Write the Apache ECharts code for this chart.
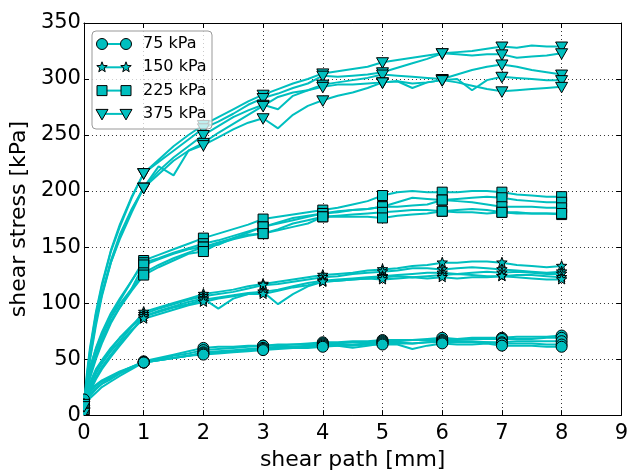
<!DOCTYPE html>
<html>
<head>
<meta charset="utf-8">
<script src="https://cdn.jsdelivr.net/npm/echarts@6/dist/echarts.min.js"></script>
<style>
  html, body { margin: 0; padding: 0; background: #fff; }
  #chart { width: 631px; height: 476px; }
</style>
</head>
<body>
<div id="chart"></div>
<script>
// Shear path positions [mm] shared by all measured curves
const shearPath = [0, 0.05, 0.1, 0.2, 0.3, 0.45, 0.6, 0.8,
  1, 1.25, 1.5, 1.75, 2, 2.25, 2.5, 2.75, 3, 3.25, 3.5, 3.75, 4,
  4.25, 4.5, 4.75, 5, 5.25, 5.5, 5.75, 6, 6.25, 6.5, 6.75, 7,
  7.25, 7.5, 7.75, 8];

// Shear stress [kPa], five tests per normal stress
const stress75 = [
  [12, 17, 21, 26, 30, 34, 38, 43, 48, 51, 54, 57, 60, 61, 61, 62, 62, 63, 63, 64, 65, 65, 66, 66, 67, 67, 67, 68, 69, 68, 69, 69, 69, 70, 70, 70, 71],
  [8, 13, 17, 23, 28, 33, 38, 43, 47, 50, 53, 55, 58, 59, 60, 61, 62, 62, 63, 63, 64, 64, 65, 65, 66, 66, 67, 67, 67, 67, 68, 68, 68, 68, 68, 69, 69],
  [10, 15, 19, 24, 28, 32, 37, 42, 47, 49, 51, 53, 56, 57, 58, 59, 60, 61, 61, 62, 63, 63, 63, 64, 65, 65, 64, 65, 66, 66, 66, 65, 65, 66, 66, 66, 66],
  [6, 11, 15, 20, 25, 30, 35, 41, 47, 49, 51, 53, 55, 56, 57, 58, 59, 60, 61, 61, 62, 62, 60, 62, 64, 64, 64, 65, 65, 65, 65, 65, 64, 64, 64, 63, 63],
  [14, 19, 23, 27, 31, 35, 39, 43, 47, 49, 51, 53, 54, 55, 56, 57, 58, 59, 60, 60, 61, 62, 62, 63, 63, 63, 59, 62, 64, 63, 63, 64, 62, 62, 62, 61, 61]
];
const stress150 = [
  [5, 17, 25, 37, 46, 57, 66, 79, 92, 96, 100, 104, 108, 110, 112, 115, 117, 119, 121, 123, 125, 126, 127, 129, 130, 131, 133, 134, 136, 136, 137, 137, 136, 134, 133, 132, 133],
  [8, 19, 27, 39, 48, 59, 69, 80, 90, 95, 99, 103, 106, 108, 110, 113, 116, 117, 119, 121, 123, 124, 126, 127, 128, 129, 131, 131, 130, 131, 132, 131, 130, 129, 128, 127, 128],
  [3, 14, 21, 32, 41, 52, 62, 75, 88, 93, 97, 101, 104, 95, 104, 108, 110, 112, 115, 118, 120, 121, 122, 123, 124, 125, 126, 127, 127, 126, 127, 128, 127, 128, 127, 126, 126],
  [10, 21, 29, 41, 49, 60, 69, 79, 88, 92, 96, 99, 103, 105, 107, 109, 110, 99, 108, 115, 119, 120, 121, 122, 123, 124, 123, 124, 125, 126, 125, 124, 124, 125, 125, 124, 123],
  [6, 15, 23, 34, 43, 54, 64, 76, 86, 90, 94, 98, 101, 104, 106, 108, 108, 111, 114, 116, 119, 120, 121, 122, 121, 122, 123, 122, 123, 122, 123, 123, 124, 123, 122, 121, 121]
];
const stress225 = [
  [4, 24, 37, 56, 70, 88, 102, 120, 138, 143, 148, 153, 158, 162, 166, 170, 175, 177, 179, 181, 183, 185, 188, 191, 196, 199, 200, 199, 199, 199, 200, 200, 199, 197, 196, 195, 195],
  [6, 27, 41, 60, 74, 91, 104, 120, 136, 140, 145, 149, 153, 156, 160, 164, 168, 172, 176, 178, 180, 182, 183, 184, 186, 190, 194, 193, 192, 193, 194, 195, 194, 192, 191, 190, 190],
  [2, 21, 33, 50, 64, 82, 96, 113, 134, 139, 144, 148, 150, 152, 158, 163, 168, 171, 174, 177, 180, 181, 183, 184, 186, 186, 187, 188, 192, 191, 190, 188, 186, 186, 186, 185, 185],
  [8, 29, 43, 59, 72, 87, 99, 113, 127, 134, 140, 145, 150, 154, 158, 161, 162, 166, 171, 174, 177, 178, 179, 180, 181, 182, 183, 183, 182, 183, 184, 183, 181, 181, 180, 180, 179],
  [5, 23, 35, 53, 67, 84, 96, 111, 125, 132, 138, 144, 146, 153, 157, 160, 162, 165, 168, 171, 177, 177, 177, 177, 176, 178, 179, 180, 182, 181, 181, 180, 181, 180, 180, 180, 180]
];
const stress375 = [
  [10, 38, 60, 92, 117, 147, 170, 195, 216, 228, 240, 250, 259, 266, 273, 280, 286, 291, 296, 300, 305, 307, 309, 311, 315, 317, 319, 321, 323, 324, 325, 327, 329, 328, 330, 329, 329],
  [5, 35, 57, 90, 115, 146, 168, 194, 216, 226, 236, 246, 256, 262, 269, 277, 283, 287, 292, 296, 303, 302, 303, 304, 306, 310, 314, 318, 323, 322, 321, 322, 322, 319, 320, 321, 323],
  [3, 31, 51, 83, 108, 138, 161, 184, 203, 218, 230, 240, 250, 258, 266, 272, 277, 273, 285, 290, 295, 297, 299, 301, 304, 303, 302, 301, 300, 304, 308, 311, 313, 311, 308, 306, 304],
  [2, 29, 49, 80, 106, 136, 159, 183, 203, 222, 214, 236, 243, 252, 260, 268, 276, 284, 288, 290, 293, 295, 295, 296, 297, 298, 292, 297, 299, 300, 290, 299, 302, 301, 300, 299, 299],
  [8, 33, 54, 84, 108, 136, 157, 181, 203, 215, 227, 236, 241, 248, 255, 261, 265, 256, 268, 276, 281, 285, 288, 292, 297, 298, 296, 297, 299, 297, 294, 291, 289, 290, 291, 292, 293]
];

const groupLabels = ['75 kPa', '150 kPa', '225 kPa', '375 kPa'];
const xTicks = [0, 1, 2, 3, 4, 5, 6, 7, 8, 9];
const yTicks = [0, 50, 100, 150, 200, 250, 300, 350];

const CYAN = '#00bfbf';
const FONT = 'DejaVu Sans';
const groups = [stress75, stress150, stress225, stress375];

// Marker glyph for each normal stress group: circle, star, square, down-triangle
function markerShape(g, cx, cy, z) {
  const st = { fill: CYAN, stroke: '#000', lineWidth: 1 };
  if (g === 0) return { type: 'circle', shape: { cx, cy, r: 5.5 }, style: st, z2: z };
  if (g === 2) return { type: 'rect', shape: { x: cx - 5, y: cy - 5, width: 10, height: 10 }, style: st, z2: z };
  if (g === 3) return { type: 'polygon', shape: { points: [[cx - 6, cy - 4.5], [cx + 6, cy - 4.5], [cx, cy + 6]] }, style: st, z2: z };
  const pts = [];
  for (let k = 0; k < 10; k++) {
    const a = -Math.PI / 2 + k * Math.PI / 5;
    const r = k % 2 === 0 ? 5.5 : 2.3;
    pts.push([cx + r * Math.cos(a), cy + r * Math.sin(a)]);
  }
  return { type: 'polygon', shape: { points: pts }, style: st, z2: z };
}

const series = [];
groups.forEach((curves, g) => {
  curves.forEach((ys) => {
    const pts = shearPath.map((x, i) => [x, ys[i]]);
    series.push({
      type: 'line', data: pts, showSymbol: false, smooth: false,
      lineStyle: { color: CYAN, width: 2 }, z: 2, silent: true
    });
    // markers every 1 mm, clipped to the plotting area
    series.push({
      type: 'custom', clip: true, z: 3, silent: true,
      data: pts.filter(p => Number.isInteger(p[0])),
      renderItem: (params, api) => {
        const c = api.coord([api.value(0), api.value(1)]);
        return markerShape(g, c[0], c[1], 0);
      }
    });
  });
});

// Legend box drawn with graphic primitives (line with a marker at each end)
const LX = 92, LY = 31, rowH = 23.3;
const legendItems = [
  { type: 'rect', shape: { x: LX, y: LY, width: 120, height: 98, r: 4 },
    style: { fill: 'rgba(255,255,255,0.75)', stroke: '#999', lineWidth: 1 }, z: 10 }
];
groupLabels.forEach((lab, g) => {
  const cy = LY + 13 + g * rowH;
  legendItems.push({ type: 'line', shape: { x1: 102, y1: cy, x2: 126, y2: cy },
    style: { stroke: CYAN, lineWidth: 2 }, z: 11 });
  const m1 = markerShape(g, 102, cy); m1.z = 12;
  const m2 = markerShape(g, 126, cy); m2.z = 12;
  legendItems.push(m1, m2);
  legendItems.push({ type: 'text', x: 143, y: cy,
    style: { text: lab, fill: '#000', font: '16px "DejaVu Sans"', textVerticalAlign: 'middle' }, z: 12 });
});

const axisCommon = {
  type: 'value',
  axisLine: { show: true, onZero: false, lineStyle: { color: '#000', width: 1 } },
  axisTick: { show: true, inside: true, length: 5, lineStyle: { color: '#000' } },
};

const chart = echarts.init(document.getElementById('chart'), null, { renderer: 'canvas' });
chart.setOption({
  animation: false,
  backgroundColor: '#fff',
  grid: { left: 83, right: 8, top: 23, bottom: 60 },
  xAxis: [
    Object.assign({}, axisCommon, {
      min: xTicks[0], max: xTicks[xTicks.length - 1], interval: 1, position: 'bottom',
      name: 'shear path [mm]', nameLocation: 'middle', nameGap: 32,
      nameTextStyle: { fontFamily: FONT, fontSize: 22, color: '#000' },
      axisLabel: { fontFamily: FONT, fontSize: 21, color: '#000', margin: 8 },
      splitLine: { show: true, lineStyle: { color: '#333', type: [1, 3], width: 1 } }
    }),
    Object.assign({}, axisCommon, {
      min: xTicks[0], max: xTicks[xTicks.length - 1], interval: 1, position: 'top',
      axisLabel: { show: false }, splitLine: { show: false }
    })
  ],
  yAxis: [
    Object.assign({}, axisCommon, {
      min: yTicks[0], max: yTicks[yTicks.length - 1], interval: 50, position: 'left',
      name: 'shear stress [kPa]', nameLocation: 'middle', nameGap: 50,
      nameTextStyle: { fontFamily: FONT, fontSize: 22, color: '#000' },
      axisLabel: { fontFamily: FONT, fontSize: 21, color: '#000', margin: 3 },
      splitLine: { show: true, lineStyle: { color: '#333', type: [1, 3], width: 1 } }
    }),
    Object.assign({}, axisCommon, {
      min: yTicks[0], max: yTicks[yTicks.length - 1], interval: 50, position: 'right',
      axisLabel: { show: false }, splitLine: { show: false }
    })
  ],
  series: series,
  graphic: legendItems
});
</script>
</body>
</html>
